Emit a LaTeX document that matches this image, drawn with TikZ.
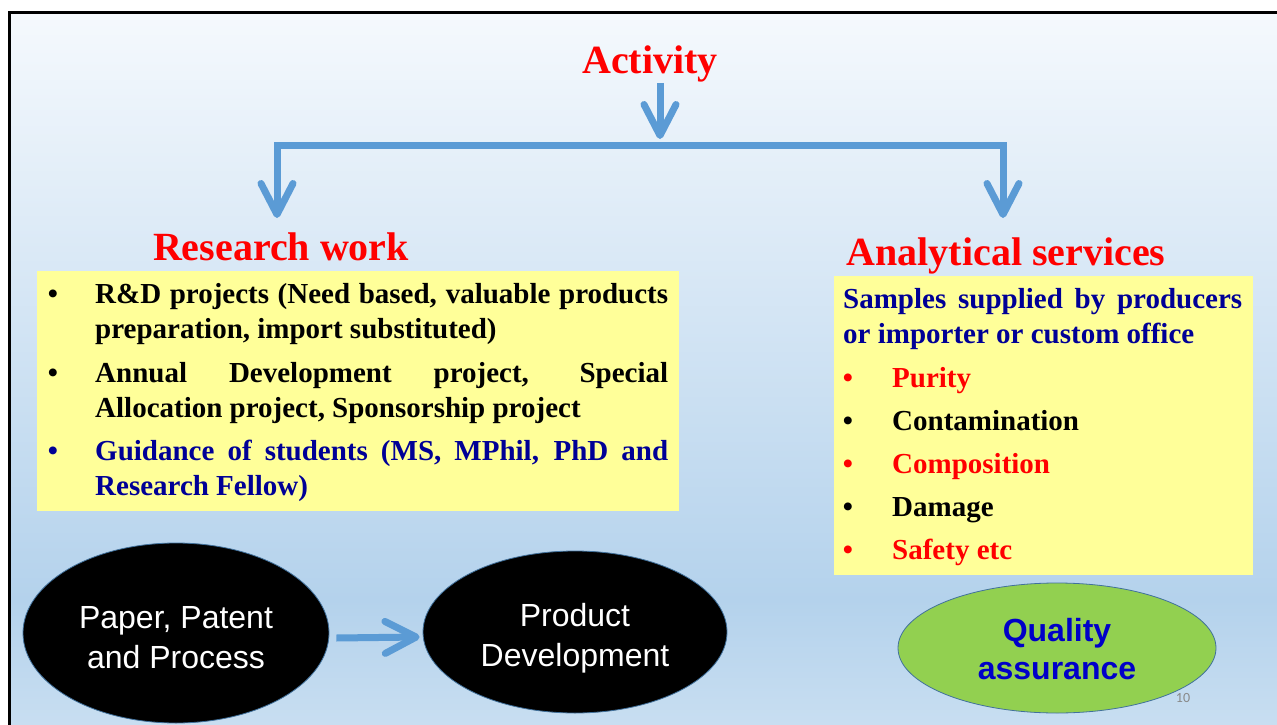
\documentclass[tikz,border=0pt]{standalone}
\usepackage{fontspec}
\setmainfont{Liberation Serif}
\newfontfamily\arialf{Liberation Sans}
\newfontfamily\calib{Carlito}
\usetikzlibrary{arrows.meta,shapes.geometric}
\definecolor{arrblue}{RGB}{91,155,213}
\definecolor{boxyellow}{RGB}{255,255,153}
\definecolor{navyt}{RGB}{0,0,150}
\definecolor{redt}{RGB}{255,0,0}
\definecolor{qblue}{RGB}{0,0,200}
\definecolor{qgreen}{RGB}{146,208,80}
\definecolor{edgeb}{RGB}{65,113,156}
\definecolor{bgtop}{RGB}{245,249,253}
\definecolor{bgmid}{RGB}{180,210,236}
\definecolor{bgbot}{RGB}{200,222,241}
\definecolor{pggray}{RGB}{137,137,137}
\begin{document}
\begin{tikzpicture}[x=1pt,y=-1pt,
 title/.style={font=\fontsize{40}{48}\selectfont\bfseries, text=redt, inner sep=0pt, anchor=base},
 body/.style={font=\fontsize{29}{35}\selectfont\bfseries, inner sep=0pt, anchor=base west},
 bul/.style={font=\fontsize{29}{35}\selectfont\bfseries, inner sep=0pt, anchor=base},
 conn/.style={draw=arrblue, line width=7pt},
 arr/.style={conn, -{Straight Barb[length=31pt,width=32pt,round]}},
 yelbox/.style={fill=boxyellow, inner sep=0pt, anchor=north west},
 blackell/.style={ellipse, fill=black, draw=edgeb, line width=0.8pt, inner sep=0pt, text=white, align=center, font=\arialf\fontsize{32}{40}\selectfont},
]
\useasboundingbox (0,0) rectangle (1277,725);
% background
\fill[white] (0,0) rectangle (1277,725);
\shade[top color=bgtop, bottom color=bgmid] (9,12) rectangle (1277,600);
\shade[top color=bgmid, bottom color=bgbot] (9,599.5) rectangle (1277,725);
\draw[line width=3pt] (9.5,725) -- (9.5,12.5) -- (1277,12.5);

% titles
\node[title] (act) at (650,74) {Activity};
\node[title] (rw) at (281,260) {Research work};
\node[title] (as) at (1006,265) {Analytical services};

% left box
\node[yelbox, minimum width=642, minimum height=240] (lbox) at (37,271) {};
\node[bul] (b1) at (53,303) {•};
\node[body] (l1a) at (95,303) {\makebox[573pt][s]{R\&D projects (Need based, valuable products}};
\node[body] (l1b) at (95,338) {preparation, import substituted)};
\node[bul] (b2) at (53,382) {•};
\node[body] (l2a) at (95,382) {\makebox[573pt][s]{Annual Development project, Special}};
\node[body] (l2b) at (95,417) {Allocation project, Sponsorship project};
\node[bul,text=navyt] (b3) at (53,460) {•};
\node[body,text=navyt] (l3a) at (95,460) {\makebox[573pt][s]{Guidance of students (MS, MPhil, PhD and}};
\node[body,text=navyt] (l3b) at (95,495) {Research Fellow)};

% right box
\node[yelbox, minimum width=419, minimum height=299] (rbox) at (834,276) {};
\node[body,text=navyt] (r0a) at (843,308) {\makebox[399pt][s]{Samples supplied by producers}};
\node[body,text=navyt] (r0b) at (843,343) {or importer or custom office};
\node[bul,text=redt] (rb1) at (848,387) {•};
\node[body,text=redt] (r1) at (892,387) {Purity};
\node[bul] (rb2) at (848,430) {•};
\node[body] (r2) at (892,430) {Contamination};
\node[bul,text=redt] (rb3) at (848,473) {•};
\node[body,text=redt] (r3) at (892,473) {Composition};
\node[bul] (rb4) at (848,516) {•};
\node[body] (r4) at (892,516) {Damage};
\node[bul,text=redt] (rb5) at (848,559) {•};
\node[body,text=redt] (r5) at (892,559) {Safety etc};

% ellipses
\node[blackell, minimum width=306, minimum height=180] (ppp) at (176,633) {\rule{0pt}{31pt}Paper, Patent\\and Process};
\node[blackell, minimum width=304, minimum height=162] (pd) at (575,632) {\rule{0pt}{35pt}Product\\Development};
\node[ellipse, fill=qgreen, draw=edgeb, line width=0.8pt, minimum width=318, minimum height=130, inner sep=0pt, text=qblue, align=center, font=\arialf\bfseries\fontsize{32}{38}\selectfont] (qa) at (1057,648) {\rule{0pt}{26pt}Quality\\assurance};

% connectors
\coordinate (hub) at (660,139);
\coordinate (lc) at (277,145);
\coordinate (rc) at (1003,145);
\coordinate (ltip) at (277,218);
\coordinate (rtip) at (1003,218);
\draw[arr] (act.south -| hub) -- (hub);
\draw[conn, line cap=rect] (lc) -- (rc);
\draw[arr] (lc) -- (ltip);
\draw[arr] (rc) -- (rtip);
\draw[arr] ([xshift=7pt,yshift=-5pt]ppp.east) -- ([xshift=-3pt,yshift=-5pt]pd.west);

% page number
\node[font=\calib\fontsize{14}{16}\selectfont, text=pggray, inner sep=0pt] (pg) at (1183,698) {10};
\end{tikzpicture}
\end{document}
